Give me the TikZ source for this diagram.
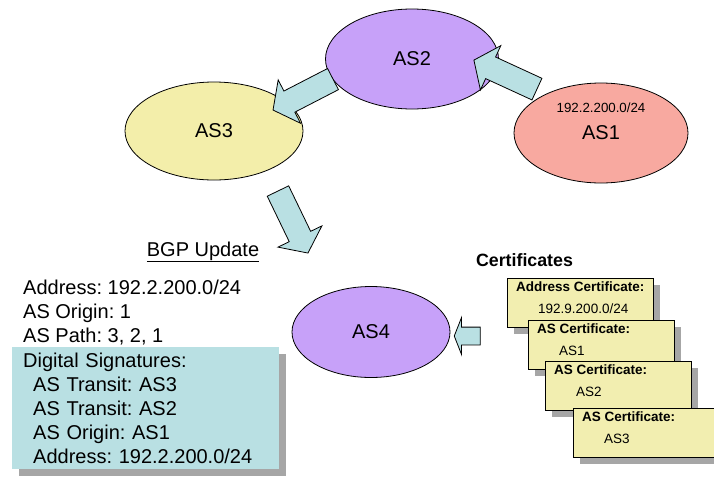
\documentclass[tikz,border=0pt]{standalone}
\usepackage{fontspec}
\setmainfont{Liberation Sans}
\usetikzlibrary{positioning,shapes.geometric,shapes.arrows,shadows}

\definecolor{asviolet}{RGB}{199,161,249}
\definecolor{assalmon}{RGB}{248,169,160}
\definecolor{asyellow}{RGB}{243,238,170}
\definecolor{certyellow}{RGB}{242,238,176}
\definecolor{flowblue}{RGB}{185,224,227}

\begin{document}
\frenchspacing
\begin{tikzpicture}[x=1pt,y=-1pt,
        font=\fontsize{20}{24}\selectfont,
        as/.style={draw,ellipse,inner sep=0pt,line width=0.8pt},
        flow/.style={draw,single arrow,fill=flowblue,inner xsep=0pt,inner ysep=11.5pt,line width=0.8pt,
            single arrow head extend=12.5pt,single arrow tip angle=106},
        shadowed/.style={drop shadow={shadow xshift=7pt,shadow yshift=-7pt,fill=black!35,opacity=1}},
        card/.style={draw,fill=certyellow,minimum width=146pt,minimum height=49pt,inner sep=0pt,shadowed},
        cardtext/.style={inner sep=0pt,align=left,font=\fontsize{13.5}{22}\selectfont},
        msgtext/.style={inner sep=0pt,align=left},
        sigbox/.style={fill=flowblue,text width=245pt,inner xsep=11pt,minimum height=122pt,align=left,
            shadowed}]

    \useasboundingbox (0,0) rectangle (714,477);

    \node[as,fill=asviolet,minimum width=173pt,minimum height=100pt] (as2) at (412,59) {AS2};
    \node[as,fill=asyellow,minimum width=178pt,minimum height=98pt] (as3) at (214,131) {AS3};
    \node[as,fill=assalmon,minimum width=174pt,minimum height=100pt] (as1) at (601,133) {AS1};
    \node[as,fill=asviolet,minimum width=158pt,minimum height=91pt] (as4) at (371,332) {AS4};
    \node[inner sep=0pt,font=\fontsize{13.3}{16}\selectfont] (prefix) at (601,108) {192.2.200.0/24};

    \node[flow,minimum height=67.5pt,rotate=207.3] (as2to3) at (307,92.5) {};
    \node[flow,minimum height=69.4pt,rotate=155.3] (as1to2) at (509.5,76.5) {};
    \node[flow,minimum height=68.9pt,rotate=-64.2] (as3out) at (291,218) {};
    \node[flow,minimum height=26pt,inner ysep=8.5pt,single arrow head extend=9.5pt,
        single arrow tip angle=137,rotate=180] (certin) at (469,336) {};

    \node[anchor=base,inner sep=0pt] (bgp) at (203,256) {\underline{BGP Update}};
    \node[msgtext,anchor=north west] (update) at (23,280) {Address: 192.2.200.0/24\\AS Origin: 1\\AS Path: 3, 2, 1};
    \node[sigbox,anchor=north west] (sig) at (12,347) {Digital Signatures:\\
        \hspace*{10pt}AS Transit: AS3\\
        \hspace*{10pt}AS Transit: AS2\\
        \hspace*{10pt}AS Origin: AS1\\
        \hspace*{10pt}Address: 192.2.200.0/24};

    \node[anchor=base,inner sep=0pt,font=\fontsize{17.8}{20}\selectfont\bfseries] (certs) at (524.5,266) {Certificates};
    \foreach \cx/\cy/\ctitle/\cval [count=\i] in
        {507/278/Address Certificate:/{192.9.200.0/24},
         528/320/AS Certificate:/AS1,
         545/361/AS Certificate:/AS2,
         573/408/AS Certificate:/AS3}
    {
        \node[card,anchor=north west] (card\i) at (\cx,\cy) {};
        \node[cardtext,anchor=north west] (cardtext\i) at ([shift={(9,4)}]card\i.north west) {\textbf{\ctitle}\\\hspace*{22pt}\cval};
    }
\end{tikzpicture}
\end{document}
